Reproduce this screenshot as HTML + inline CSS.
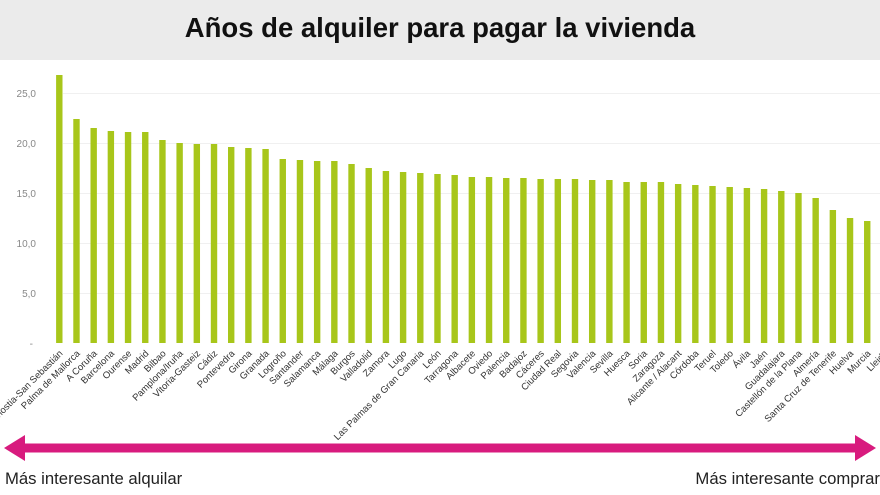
<!DOCTYPE html>
<html><head><meta charset="utf-8"><style>
html,body{margin:0;padding:0;background:#fff;width:880px;height:495px;overflow:hidden}
</style></head><body>
<svg width="880" height="495" xmlns="http://www.w3.org/2000/svg" font-family="Liberation Sans, sans-serif">
<rect x="0" y="0" width="880" height="60" fill="#ebebeb"/>
<text x="440" y="37" text-anchor="middle" font-size="27.5" font-weight="bold" fill="#111">Años de alquiler para pagar la vivienda</text>
<g stroke="#f0f0f0" stroke-width="1">
<line x1="63" x2="880" y1="93.5" y2="93.5"/><line x1="63" x2="880" y1="143.5" y2="143.5"/><line x1="63" x2="880" y1="193.5" y2="193.5"/><line x1="63" x2="880" y1="243.5" y2="243.5"/><line x1="63" x2="880" y1="293.5" y2="293.5"/>
</g>
<g font-size="10" fill="#888" text-anchor="end">
<text x="36" y="97">25,0</text><text x="36" y="147">20,0</text><text x="36" y="197">15,0</text><text x="36" y="247">10,0</text><text x="36" y="297">5,0</text><text x="33" y="347">-</text>
</g>
<g id="bars" fill="#a8c61a"></g>
<g id="labels" font-size="9.5" fill="#333" text-anchor="end"></g>
<line x1="20" y1="448" x2="860" y2="448" stroke="#d81b7e" stroke-width="9"/>
<polygon points="4,448 25,435 25,461" fill="#d81b7e"/>
<polygon points="876,448 855,435 855,461" fill="#d81b7e"/>
<text x="5" y="484" font-size="16.7" fill="#222">Más interesante alquilar</text>
<text x="880" y="484" font-size="16.7" fill="#222" text-anchor="end">Más interesante comprar</text>
</svg>
<script>
var d=[["Donostia-San Sebastián",26.8],["Palma de Mallorca",22.4],["A Coruña",21.5],["Barcelona",21.2],["Ourense",21.1],["Madrid",21.1],["Bilbao",20.3],["Pamplona/Iruña",20.0],["Vitoria-Gasteiz",19.9],["Cádiz",19.9],["Pontevedra",19.6],["Girona",19.5],["Granada",19.4],["Logroño",18.4],["Santander",18.3],["Salamanca",18.2],["Málaga",18.2],["Burgos",17.9],["Valladolid",17.5],["Zamora",17.2],["Lugo",17.1],["Las Palmas de Gran Canaria",17.0],["León",16.9],["Tarragona",16.8],["Albacete",16.6],["Oviedo",16.6],["Palencia",16.5],["Badajoz",16.5],["Cáceres",16.4],["Ciudad Real",16.4],["Segovia",16.4],["Valencia",16.3],["Sevilla",16.3],["Huesca",16.1],["Soria",16.1],["Zaragoza",16.1],["Alicante / Alacant",15.9],["Córdoba",15.8],["Teruel",15.7],["Toledo",15.6],["Ávila",15.5],["Jaén",15.4],["Guadalajara",15.2],["Castellón de la Plana",15.0],["Almería",14.5],["Santa Cruz de Tenerife",13.3],["Huelva",12.5],["Murcia",12.2],["Lleida",12.0]];
var ns="http://www.w3.org/2000/svg",b=document.getElementById("bars"),l=document.getElementById("labels");
d.forEach(function(e,i){var cx=59.3+i*17.19;var h=e[1]*10;
var r=document.createElementNS(ns,"rect");r.setAttribute("x",cx-3.2);r.setAttribute("y",343-h);r.setAttribute("width",6.4);r.setAttribute("height",h);b.appendChild(r);
var t=document.createElementNS(ns,"text");t.setAttribute("transform","translate("+(cx+4)+",354) rotate(-45)");t.textContent=e[0];l.appendChild(t);});
</script>
</body></html>
